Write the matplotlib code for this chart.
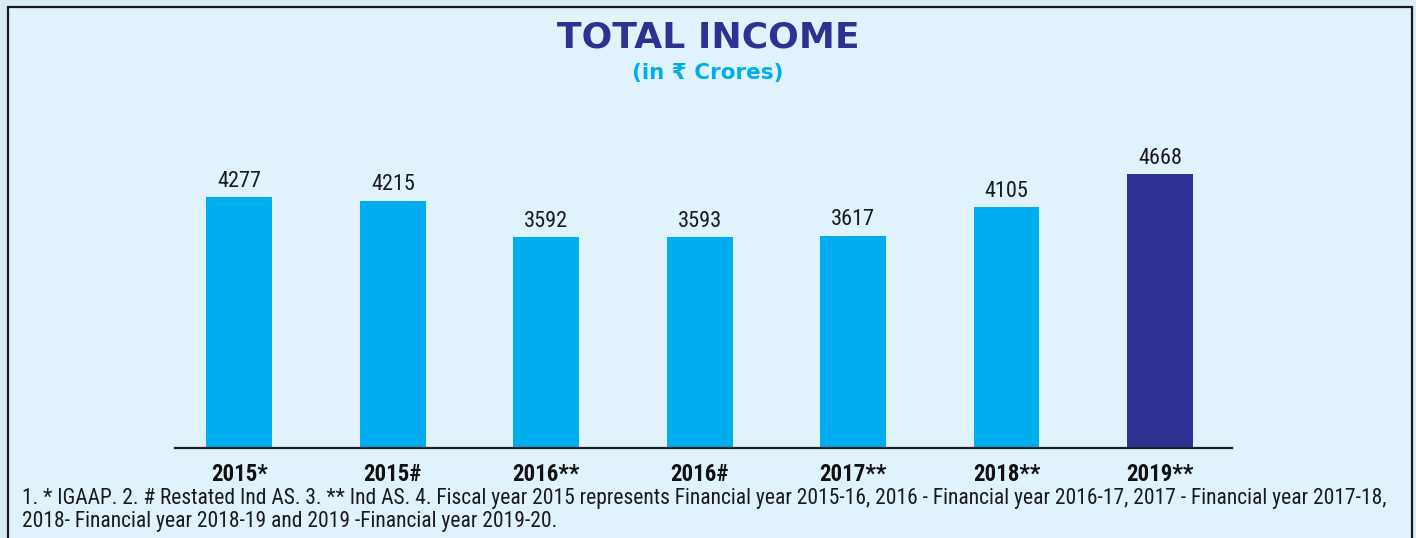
import matplotlib
matplotlib.use("Agg")
import matplotlib.pyplot as plt
from matplotlib import font_manager
from matplotlib.patches import Rectangle

# Chart data
years = ["2015*", "2015#", "2016**", "2016#", "2017**", "2018**", "2019**"]
income = [4277, 4215, 3592, 3593, 3617, 4105, 4668]
bar_colors = ["#00AEEF"] * 6 + ["#2E3192"]

footnote = ("1. * IGAAP. 2. # Restated Ind AS. 3. ** Ind AS. 4. Fiscal year 2015 represents Financial year 2015-16, "
            "2016 - Financial year 2016-17, 2017 - Financial year 2017-18,\n"
            "2018- Financial year 2018-19 and 2019 -Financial year 2019-20.")

# pick a condensed font if one is installed
installed = {f.name for f in font_manager.fontManager.ttflist}
narrow = "DejaVu Sans"
for name in ["Liberation Sans Narrow", "Roboto Condensed", "DejaVu Sans Condensed", "Open Sans Condensed"]:
    if name in installed:
        narrow = name
        break

fig = plt.figure(figsize=(14.16, 5.38), dpi=100)
fig.patch.set_facecolor("#D8EEF6")

# inner panel with dark border
fig.patches.append(Rectangle((8 / 1416, -0.01), (1412 - 8) / 1416, 1 - 7 / 538 + 0.01,
                             transform=fig.transFigure, facecolor="#E0F2FC",
                             edgecolor="#1A1A1A", linewidth=1.6, zorder=-5))

ax = fig.add_axes([175 / 1416, 1 - 448 / 538, (1232 - 175) / 1416, (448 - 120) / 538])
ax.set_zorder(2)
ax.set_facecolor("none")
x = list(range(len(years)))
bars = ax.bar(x, income, width=0.43, color=bar_colors, zorder=2)
ax.set_xlim(-0.42, 6.47)
ax.set_ylim(0, 5590)

for b, v in zip(bars, income):
    ax.text(b.get_x() + b.get_width() / 2, v + 90, str(v), ha="center", va="bottom",
            fontsize=16, family=narrow, color="#1A1A1A")

for s in ["top", "right", "left"]:
    ax.spines[s].set_visible(False)
ax.spines["bottom"].set_color("#222222")
ax.spines["bottom"].set_linewidth(1.6)
ax.set_yticks([])
ax.set_xticks(x)
ax.set_xticklabels(years, fontsize=16.5, fontweight="bold", family=narrow, color="#111111")
ax.tick_params(axis="x", length=0, pad=11)

fig.text(0.5, 1 - 38 / 538, "TOTAL INCOME", ha="center", va="center",
         fontsize=26, fontweight="heavy", color="#2E3192", family="DejaVu Sans")
fig.text(0.5, 1 - 73 / 538, "(in \u20b9 Crores)", ha="center", va="center",
         fontsize=15.5, fontweight="bold", color="#00AEEF", family="DejaVu Sans")

fig.text(22 / 1416, 1 - 488 / 538, footnote, ha="left", va="top",
         fontsize=15.5, family=narrow, color="#1A1A1A", linespacing=1.12)

fig.savefig("out.png", dpi=100, facecolor=fig.get_facecolor())
